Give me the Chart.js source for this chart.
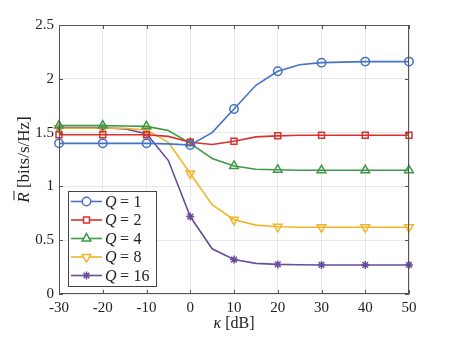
<!DOCTYPE html>
<html>
<head>
<meta charset="utf-8">
<script src="https://cdn.jsdelivr.net/npm/chart.js@4"></script>
<style>
  html, body { margin: 0; padding: 0; background: #fff; }
  #wrap { width: 452px; height: 339px; }
</style>
</head>
<body>
<div id="wrap"><canvas id="c" width="452" height="339"></canvas></div>
<script>
// kappa in dB, one point every 5 dB (markers only every 10 dB)
const kappa = [-30, -25, -20, -15, -10, -5, 0, 5, 10, 15, 20, 25, 30, 35, 40, 45, 50];

const rateQ1  = [1.40, 1.40, 1.40, 1.40, 1.40, 1.395, 1.385, 1.50, 1.72, 1.94, 2.07, 2.13, 2.15, 2.155, 2.16, 2.16, 2.16];
const rateQ2  = [1.48, 1.48, 1.48, 1.48, 1.48, 1.465, 1.41, 1.39, 1.42, 1.46, 1.47, 1.475, 1.476, 1.476, 1.476, 1.476, 1.476];
const rateQ4  = [1.565, 1.565, 1.565, 1.562, 1.558, 1.52, 1.40, 1.26, 1.19, 1.16, 1.155, 1.15, 1.15, 1.15, 1.15, 1.15, 1.15];
const rateQ8  = [1.54, 1.54, 1.54, 1.54, 1.525, 1.41, 1.12, 0.83, 0.69, 0.64, 0.625, 0.62, 0.62, 0.62, 0.62, 0.62, 0.62];
const rateQ16 = [1.545, 1.545, 1.545, 1.535, 1.49, 1.24, 0.72, 0.42, 0.32, 0.285, 0.275, 0.272, 0.27, 0.27, 0.27, 0.27, 0.27];

const qLabels = ['1', '2', '4', '8', '16'];
const xTicks = [-30, -20, -10, 0, 10, 20, 30, 40, 50];
const yTicks = [0, 0.5, 1, 1.5, 2, 2.5];

const serif = "'Liberation Serif', 'DejaVu Serif', serif";

const styles = [
  { color: '#4472C4', point: 'circle', rot: 0, r: 4.2 },
  { color: '#D9312F', point: 'rect', rot: 0, r: 4.2 },
  { color: '#3C9A48', point: 'triangle', rot: 0, r: 5 },
  { color: '#F2B42B', point: 'triangle', rot: 180, r: 5 },
  { color: '#6A4C9C', point: 'star', rot: 0, r: 4 }
];

const series = [rateQ1, rateQ2, rateQ4, rateQ8, rateQ16];

const datasets = series.map((vals, i) => ({
  label: 'Q = ' + qLabels[i],
  data: kappa.map((k, j) => ({ x: k, y: vals[j] })),
  borderColor: styles[i].color,
  backgroundColor: 'rgba(0,0,0,0)',
  pointBorderColor: styles[i].color,
  pointBackgroundColor: 'rgba(0,0,0,0)',
  borderWidth: 1.6,
  pointBorderWidth: 1.5,
  pointStyle: styles[i].point,
  pointRotation: styles[i].rot,
  pointRadius: ctx => (kappa[ctx.dataIndex] % 10 === 0 ? styles[i].r : 0),
  pointHoverRadius: 0,
  tension: 0,
  clip: false
}));

// draws the two-part labels (italic symbol + upright rest) left to right
function mixedText(ctx, parts, x, y) {
  parts.forEach(([txt, italic, size]) => {
    ctx.font = (italic ? 'italic ' : '') + size + 'px ' + serif;
    ctx.fillText(txt, x, y);
    x += ctx.measureText(txt).width;
  });
}

const extras = {
  id: 'extras',
  afterDraw(chart) {
    const { ctx, chartArea: a } = chart;
    const xs = chart.scales.x, ys = chart.scales.y;
    ctx.save();

    // box and inside ticks
    ctx.strokeStyle = '#555';
    ctx.lineWidth = 1;
    ctx.strokeRect(a.left + 0.5, a.top + 0.5, a.right - a.left - 1, a.bottom - a.top - 1);
    ctx.beginPath();
    xTicks.forEach(v => {
      const px = Math.round(xs.getPixelForValue(v)) + 0.5;
      ctx.moveTo(px, a.bottom); ctx.lineTo(px, a.bottom - 4);
      ctx.moveTo(px, a.top); ctx.lineTo(px, a.top + 4);
    });
    yTicks.forEach(v => {
      const py = Math.round(ys.getPixelForValue(v)) + 0.5;
      ctx.moveTo(a.left, py); ctx.lineTo(a.left + 4, py);
      ctx.moveTo(a.right, py); ctx.lineTo(a.right - 4, py);
    });
    ctx.stroke();

    // x axis title
    ctx.fillStyle = '#222';
    ctx.textBaseline = 'alphabetic';
    const cx = (a.left + a.right) / 2;
    ctx.font = 'italic 16px ' + serif;
    let w = ctx.measureText('κ ').width;
    ctx.font = '16px ' + serif;
    w += ctx.measureText('[dB]').width;
    mixedText(ctx, [['κ ', true, 16], ['[dB]', false, 16]], cx - w / 2, 328);

    // y axis title
    ctx.save();
    ctx.translate(29, (a.top + a.bottom) / 2);
    ctx.rotate(-Math.PI / 2);
    ctx.font = 'italic 17px ' + serif;
    const rw = ctx.measureText('R').width;
    w = ctx.measureText('R ').width;
    ctx.font = '17px ' + serif;
    w += ctx.measureText('[bits/s/Hz]').width;
    const x0 = -w / 2;
    mixedText(ctx, [['R ', true, 17], ['[bits/s/Hz]', false, 17]], x0, 0);
    ctx.strokeStyle = '#222';
    ctx.lineWidth = 1;
    ctx.beginPath();
    ctx.moveTo(x0 + 2.5, -15); ctx.lineTo(x0 + rw + 1.5, -15);
    ctx.stroke();
    ctx.restore();

    // legend
    const lx = 68, ly = 191, lw = 88, lh = 95;
    ctx.fillStyle = '#fff';
    ctx.fillRect(lx, ly, lw, lh);
    ctx.strokeStyle = '#444';
    ctx.lineWidth = 1;
    ctx.strokeRect(lx + 0.5, ly + 0.5, lw, lh);
    chart.data.datasets.forEach((ds, i) => {
      const yy = 201.5 + i * 18.5;
      ctx.strokeStyle = ds.borderColor;
      ctx.lineWidth = 1.6;
      ctx.beginPath();
      ctx.moveTo(71, yy); ctx.lineTo(102, yy);
      ctx.stroke();
      ctx.fillStyle = '#fff';
      ctx.lineWidth = 1.5;
      Chart.helpers.drawPoint(ctx, {
        pointStyle: styles[i].point,
        rotation: styles[i].rot,
        radius: styles[i].r,
        borderWidth: 1.5
      }, 86.5, yy);
      ctx.fillStyle = '#222';
      ctx.textBaseline = 'middle';
      ctx.font = 'italic 16px ' + serif;
      ctx.fillText('Q', 105, yy + 1);
      ctx.font = '16px ' + serif;
      ctx.textAlign = 'center';
      ctx.fillText('=', 124.5, yy + 1);
      ctx.textAlign = 'left';
      ctx.fillText(qLabels[i], 133.5, yy + 1);
    });
    ctx.restore();
  }
};

new Chart(document.getElementById('c'), {
  type: 'line',
  data: { datasets },
  options: {
    responsive: false,
    animation: false,
    events: [],
    layout: { padding: { left: 0, right: 43, top: 25, bottom: 0 } },
    plugins: { legend: { display: false }, tooltip: { enabled: false } },
    scales: {
      x: {
        type: 'linear',
        min: -30, max: 50,
        afterBuildTicks: s => { s.ticks = xTicks.map(v => ({ value: v })); },
        afterFit: s => { s.height = 45; },
        grid: { color: 'rgba(0,0,0,0.09)', drawTicks: false },
        border: { display: false },
        ticks: { color: '#222', font: { family: serif, size: 15 }, padding: 5, maxRotation: 0,
                 callback: v => String(v) }
      },
      y: {
        min: 0, max: 2.5,
        afterBuildTicks: s => { s.ticks = yTicks.map(v => ({ value: v })); },
        afterFit: s => { s.width = 59; },
        grid: { color: 'rgba(0,0,0,0.09)', drawTicks: false },
        border: { display: false },
        ticks: { color: '#222', font: { family: serif, size: 15 }, padding: 5,
                 callback: v => String(v) }
      }
    }
  },
  plugins: [extras]
});
</script>
</body>
</html>
